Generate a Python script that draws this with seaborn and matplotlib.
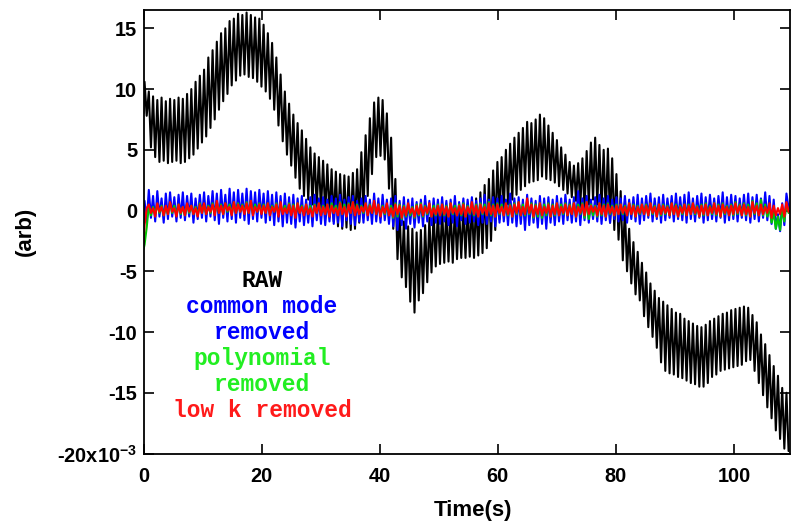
import numpy as np
import pandas as pd
import matplotlib
matplotlib.use("Agg")
import matplotlib.pyplot as plt
import seaborn as sns
from matplotlib.ticker import FixedLocator, FuncFormatter

# ---------------------------------------------------------------------------
# Detector time streams (values in units of 1e-3, arbitrary).
# Each stream is stored as the successive maxima / minima of the ~1.4 Hz
# oscillation, one pair per cycle, plus the value at t = 0.
# ---------------------------------------------------------------------------
SCALE = 1e-3
FIRST_EXTREMUM = 0.18   # s
EXTREMUM_STEP = 0.36    # s between a maximum and the following minimum

raw_start = 8.0
raw_peaks = [
    10.6, 9.8, 9.4, 9.1, 9.3, 9.0, 9.2, 9.1, 9.3, 9.2,
    9.6, 10.0, 10.6, 11.1, 11.6, 12.6, 13.2, 13.9, 14.6, 15.0,
    15.6, 15.8, 16.2, 16.1, 16.3, 16.1, 15.9, 15.8, 15.3, 14.6,
    13.8, 12.6, 11.2, 9.8, 8.8, 7.9, 7.2, 6.6, 5.9, 5.2,
    4.7, 4.4, 4.1, 3.8, 3.4, 3.2, 3.0, 2.9, 2.8, 3.1,
    3.4, 4.8, 6.2, 7.6, 8.9, 9.3, 9.1, 8.0, 6.0, 2.6,
    0.2, -0.9, -1.3, -1.5, -1.8, -1.6, -1.2, -0.6, -0.1, 0.1,
    0.2, 0.3, 0.2, 0.3, 0.2, 0.3, 0.5, 0.8, 1.0, 1.5,
    2.1, 2.6, 3.3, 4.0, 4.4, 5.0, 5.5, 6.0, 6.4, 6.8,
    7.3, 7.2, 7.5, 7.9, 7.6, 7.0, 6.4, 5.8, 5.2, 4.6,
    4.0, 3.7, 3.9, 4.3, 4.9, 5.6, 6.0, 5.4, 5.0, 5.1,
    4.3, 3.0, 1.6, 0.2, -1.5, -2.6, -3.4, -4.3, -5.1, -6.0,
    -6.6, -7.2, -7.5, -7.8, -8.1, -8.4, -8.5, -8.9, -9.1, -9.3,
    -9.5, -9.6, -9.4, -9.1, -8.9, -8.7, -8.5, -8.4, -8.2, -8.1,
    -8.0, -7.9, -8.0, -8.6, -9.2, -10.2, -11.0, -11.9, -12.8, -13.6,
    -14.6, -15.0,
]
raw_troughs = [
    7.8, 5.2, 4.4, 4.0, 4.1, 3.9, 4.0, 4.1, 3.9, 4.0,
    4.3, 4.6, 5.1, 5.6, 6.1, 6.8, 7.5, 8.3, 9.0, 9.6,
    10.3, 10.7, 11.1, 11.2, 11.0, 10.9, 10.6, 10.2, 9.8, 9.2,
    8.3, 7.0, 5.7, 4.6, 3.7, 2.7, 1.8, 1.2, 0.9, 0.5,
    0.2, 0.0, -0.3, -0.5, -0.9, -1.3, -1.5, -1.4, -1.6, -1.5,
    -1.0, -0.3, 1.2, 3.0, 4.4, 4.5, 4.2, 1.8, -1.5, -4.0,
    -5.5, -6.3, -7.5, -8.4, -7.4, -6.8, -5.9, -5.1, -4.6, -4.4,
    -4.3, -4.2, -4.3, -4.0, -3.9, -3.9, -3.8, -3.9, -3.7, -3.5,
    -3.1, -2.5, -1.6, -0.7, 0.0, 0.5, 0.9, 1.3, 1.7, 2.0,
    2.3, 2.4, 2.5, 2.8, 2.6, 2.5, 2.3, 2.0, 1.7, 1.4,
    1.1, 0.8, 0.3, 0.0, 0.5, 0.9, 0.5, 0.1, -0.4, -1.0,
    -1.6, -2.4, -4.1, -5.0, -6.0, -6.9, -7.4, -8.7, -9.6, -10.4,
    -11.3, -12.5, -13.2, -13.4, -13.5, -13.7, -13.8, -14.0, -14.2, -14.3,
    -14.5, -14.5, -14.2, -13.7, -13.5, -13.2, -13.1, -13.0, -12.9, -12.8,
    -12.7, -12.4, -12.3, -13.2, -14.2, -15.2, -16.2, -17.1, -18.1, -18.8,
    -19.6, -19.8,
]

cm_start = -1.5
cm_peaks = [
    0.8, 1.7, 1.2, 1.6, 1.0, 1.4, 1.5, 1.1, 1.3, 1.5, 1.2, 1.4, 1.0, 1.3,
    1.5, 1.2, 1.6, 1.4, 1.7, 1.3, 1.8, 1.5, 1.7, 1.4, 1.8, 1.6, 1.5, 1.7,
    1.4, 1.6, 1.3, 1.5, 1.2, 1.4, 1.1, 1.3, 1.0, 1.2, 0.9, 1.1, 1.3, 1.0,
    1.1, 0.9, 1.2, 1.0, 1.3, 0.9, 1.1, 1.2, 0.8, 1.0, 1.2, 0.9, 1.4, 1.0,
    1.3, 0.9, 1.0, 1.2, 0.8, 1.1, 0.9, 1.0, 0.7, 0.9, 1.2, 0.8, 1.0, 0.9,
    1.1, 0.8, 0.9, 1.2, 0.7, 1.0, 0.9, 1.1, 0.8, 1.0, 1.3, 0.9, 1.1, 1.0,
    1.2, 0.9, 1.4, 1.0, 1.1, 0.9, 1.3, 1.0, 0.8, 1.2, 1.0, 1.1, 0.9, 1.2,
    1.0, 1.3, 0.9, 1.1, 1.6, 1.0, 1.2, 0.9, 1.1, 1.3, 1.0, 1.2, 0.9, 1.1,
    1.0, 1.2, 0.9, 1.1, 1.3, 1.0, 1.2, 1.4, 1.0, 1.1, 1.3, 1.0, 1.2, 1.4,
    1.1, 1.3, 1.5, 1.0, 1.2, 1.4, 1.1, 1.3, 1.0, 1.2, 1.5, 1.1, 1.3, 1.2,
    1.0, 1.3, 1.4, 1.1, 1.3, 1.0, 1.5, 1.2, 0.9, -0.3, 0.6, 1.4,
]
cm_troughs = [
    -1.0, -0.6, -0.9, -0.5, -1.0, -0.7, -0.5, -0.9, -0.6, -0.8, -0.5, -1.0, -0.7, -0.6,
    -0.9, -0.5, -0.8, -1.1, -0.6, -0.9, -0.7, -1.0, -0.6, -0.8, -1.1, -0.7, -0.9, -0.6,
    -1.0, -0.8, -1.2, -0.9, -1.3, -1.0, -1.1, -1.4, -0.9, -1.2, -1.0, -1.3, -0.8, -1.1,
    -1.2, -0.9, -1.1, -1.0, -1.3, -0.8, -1.1, -1.2, -0.9, -1.0, -0.8, -1.1, -0.9, -1.0,
    -0.8, -1.1, -1.3, -1.6, -1.2, -1.5, -1.1, -1.4, -1.0, -1.3, -0.9, -1.2, -1.0, -1.1,
    -0.9, -1.2, -1.0, -1.3, -0.8, -1.1, -1.0, -0.9, -1.2, -1.0, -1.1, -0.9, -1.3, -1.0,
    -0.9, -1.2, -1.0, -1.3, -1.1, -1.6, -1.2, -1.0, -1.4, -1.1, -1.5, -1.0, -1.2, -0.9,
    -1.1, -0.8, -1.0, -0.9, -1.2, -0.8, -1.0, -0.7, -0.9, -1.1, -0.8, -1.0, -0.7, -0.9,
    -0.8, -1.0, -0.7, -0.9, -1.1, -0.8, -0.6, -0.9, -0.7, -1.0, -0.8, -0.6, -0.9, -0.7,
    -0.8, -1.0, -0.7, -0.9, -0.6, -1.0, -0.8, -0.7, -0.9, -0.6, -1.0, -0.8, -0.7, -0.9,
    -0.6, -0.8, -1.0, -0.7, -0.9, -0.6, -0.8, -1.1, -1.5, -1.7, -1.2, 0.2,
]

poly_start = -3.2
poly_peaks = [
    -2.8, 0.4, 0.3, 0.5, 0.4, 0.3, 0.6, 0.4, 0.5, 0.3, 0.5, 0.4, 0.3, 0.6,
    0.5, 0.4, 0.6, 0.7, 0.5, 0.6, 0.5, 0.7, 0.6, 0.5, 0.7, 0.8, 0.5, 0.6,
    0.5, 0.6, 0.4, 0.6, 0.5, 0.4, 0.6, 0.5, 0.6, 0.4, 0.5, 0.4, 0.5, 0.6,
    0.4, 0.5, 0.6, 0.4, 0.7, 0.5, 0.6, 0.7, 0.5, 0.4, 0.6, 0.5, 0.6, 0.5,
    0.4, 0.5, 0.4, 0.6, 0.5, 0.4, 0.5, 0.3, 0.5, 0.6, 0.4, 0.5, 0.4, 0.5,
    0.5, 0.4, 0.6, 0.4, 0.5, 0.6, 0.4, 0.6, 0.5, 0.6, 0.5, 0.7, 0.5, 0.6,
    0.5, 0.6, 0.5, 0.6, 0.7, 0.5, 0.8, 0.6, 0.5, 0.6, 0.5, 0.6, 0.5, 0.6,
    0.5, 0.6, 0.5, 0.6, 0.5, 0.6, 0.7, 0.5, 0.4, 0.6, 0.5, 0.6, 0.4, 0.5,
    0.5, 0.4, 0.6, 0.5, 0.4, 0.5, 0.5, 0.6, 0.4, 0.5, 0.5, 0.4, 0.6, 0.5,
    0.4, 0.5, 0.5, 0.6, 0.4, 0.5, 0.6, 0.4, 0.6, 0.5, 0.6, 0.4, 0.5, 0.7,
    0.5, 0.6, 0.5, 0.8, 0.6, 0.9, 0.5, 0.3, -0.2, -0.5, 0.2, 0.6,
]
poly_troughs = [
    -1.4, -0.4, -0.3, -0.2, -0.4, -0.3, -0.2, -0.4, -0.3, -0.4, -0.2, -0.3, -0.4, -0.2,
    -0.3, -0.2, -0.3, -0.2, -0.3, -0.1, -0.3, -0.2, -0.1, -0.2, -0.2, -0.3, -0.1, -0.2,
    -0.2, -0.3, -0.1, -0.3, -0.2, -0.2, -0.3, -0.4, -0.2, -0.3, -0.3, -0.4, -0.2, -0.3,
    -0.3, -0.4, -0.2, -0.3, -0.3, -0.4, -0.2, -0.3, -0.3, -0.2, -0.3, -0.2, -0.3, -0.4,
    -0.3, -0.4, -0.6, -0.5, -0.7, -0.5, -0.4, -0.6, -0.4, -0.5, -0.3, -0.5, -0.4, -0.4,
    -0.4, -0.5, -0.3, -0.4, -0.4, -0.5, -0.3, -0.4, -0.5, -0.3, -0.4, -0.4, -0.5, -0.3,
    -0.4, -0.4, -0.5, -0.3, -0.4, -0.4, -0.3, -0.6, -0.5, -0.6, -0.4, -0.5, -0.4, -0.4,
    -0.3, -0.4, -0.3, -0.5, -0.3, -0.6, -0.7, -0.4, -0.5, -0.4, -0.5, -0.3, -0.4, -0.3,
    -0.3, -0.4, -0.3, -0.5, -0.3, -0.3, -0.4, -0.3, -0.5, -0.4, -0.3, -0.4, -0.3, -0.5,
    -0.3, -0.4, -0.3, -0.3, -0.5, -0.4, -0.4, -0.3, -0.4, -0.5, -0.3, -0.4, -0.4, -0.3,
    -0.4, -0.4, -0.5, -0.3, -0.4, -0.4, -0.5, -1.0, -1.5, -1.6, -0.9, -0.2,
]

lowk_start = -2.6
lowk_peaks = [
    -1.2, 0.5, 0.2, 0.6, 0.3, 0.4, 0.7, 0.2, 0.5, 0.3, 0.6, 0.4, 0.2, 0.5,
    0.6, 0.3, 0.5, 0.8, 0.4, 0.6, 0.3, 0.7, 0.5, 0.4, 0.6, 0.8, 0.3, 0.5,
    0.4, 0.6, 0.3, 0.5, 0.7, 0.2, 0.5, 0.4, 0.6, 0.3, 0.5, 0.2, 0.4, 0.6,
    0.3, 0.5, 0.4, 0.2, 0.6, 0.3, 0.5, 0.7, 0.4, 0.3, 0.6, 0.4, 0.8, 0.5,
    0.3, 0.6, 0.2, 0.5, 0.4, 0.3, 0.6, 0.2, 0.4, 0.5, 0.3, 0.6, 0.2, 0.4,
    0.5, 0.3, 0.6, 0.2, 0.4, 0.5, 0.3, 0.7, 0.4, 0.5, 0.3, 0.6, 0.4, 0.5,
    0.3, 0.6, 0.4, 0.5, 0.7, 0.3, 1.0, 0.5, 0.4, 0.6, 0.3, 0.5, 0.4, 0.6,
    0.3, 0.5, 0.4, 0.6, 0.3, 0.5, 0.7, 0.4, 0.3, 0.6, 0.4, 0.5, 0.3, 0.4,
    0.5, 0.3, 0.6, 0.4, 0.3, 0.5, 0.4, 0.6, 0.3, 0.5, 0.4, 0.3, 0.6, 0.4,
    0.3, 0.5, 0.4, 0.6, 0.3, 0.4, 0.5, 0.3, 0.6, 0.4, 0.5, 0.3, 0.4, 0.6,
    0.4, 0.5, 0.3, 0.7, 0.4, 0.5, 0.3, 0.6, 0.4, 0.2, 0.5, 0.7,
]
lowk_troughs = [
    0.2, -0.2, -0.5, -0.1, -0.4, -0.3, -0.1, -0.5, -0.2, -0.4, -0.1, -0.3, -0.5, -0.2,
    -0.3, -0.1, -0.4, -0.2, -0.3, 0.0, -0.4, -0.2, -0.1, -0.3, -0.2, -0.4, -0.1, -0.3,
    -0.2, -0.4, -0.1, -0.5, -0.3, -0.2, -0.4, -0.6, -0.2, -0.4, -0.3, -0.5, -0.2, -0.4,
    -0.3, -0.5, -0.2, -0.4, -0.3, -0.5, -0.2, -0.4, -0.3, -0.1, -0.4, -0.2, -0.3, -0.5,
    -0.2, -0.4, -0.5, -0.3, -0.6, -0.4, -0.2, -0.5, -0.3, -0.4, -0.2, -0.5, -0.3, -0.4,
    -0.3, -0.5, -0.2, -0.4, -0.3, -0.5, -0.2, -0.3, -0.5, -0.2, -0.4, -0.3, -0.5, -0.2,
    -0.4, -0.3, -0.5, -0.2, -0.4, -0.3, -0.2, -0.5, -0.3, -0.4, -0.2, -0.5, -0.3, -0.4,
    -0.2, -0.4, -0.3, -0.5, -0.2, -0.4, -0.3, -0.1, -0.4, -0.3, -0.5, -0.2, -0.4, -0.3,
    -0.2, -0.4, -0.3, -0.5, -0.2, -0.3, -0.4, -0.2, -0.5, -0.3, -0.2, -0.4, -0.3, -0.5,
    -0.2, -0.4, -0.3, -0.2, -0.5, -0.3, -0.4, -0.2, -0.3, -0.5, -0.2, -0.4, -0.3, -0.2,
    -0.4, -0.3, -0.5, -0.2, -0.4, -0.3, -0.2, -0.6, -0.4, -0.3, -0.5, -0.1,
]

trace_names = ["RAW", "common mode removed", "polynomial removed", "low k removed"]
line_colors = ["#000000", "#0000ff", "#00c800", "#ff0000"]
label_colors = ["#000000", "#0000ff", "#22ee22", "#ff1a1a"]
label_lines = [["RAW"], ["common mode", "removed"], ["polynomial", "removed"], ["low k removed"]]

y_ticks = [-20, -15, -10, -5, 0, 5, 10, 15]
x_ticks = [0, 20, 40, 60, 80, 100]


def build_trace(start, peaks, troughs):
    """Interleave the maxima/minima into a time-ordered stream."""
    values = np.column_stack([peaks, troughs]).ravel()
    times = FIRST_EXTREMUM + EXTREMUM_STEP * np.arange(values.size)
    return np.concatenate([[0.0], times]), np.concatenate([[start], values]) * SCALE


streams = [
    build_trace(raw_start, raw_peaks, raw_troughs),
    build_trace(cm_start, cm_peaks, cm_troughs),
    build_trace(poly_start, poly_peaks, poly_troughs),
    build_trace(lowk_start, lowk_peaks, lowk_troughs),
]
frames = []
for name, (t, v) in zip(trace_names, streams):
    frames.append(pd.DataFrame({"time": t, "signal": v, "trace": name}))
df = pd.concat(frames, ignore_index=True)

# ---------------------------------------------------------------------------
sns.set_style("ticks")
plt.rcParams["font.family"] = ["Liberation Sans", "DejaVu Sans"]
plt.rcParams["font.weight"] = "bold"
plt.rcParams["text.color"] = "black"
plt.rcParams["axes.labelcolor"] = "black"
plt.rcParams["xtick.color"] = "black"
plt.rcParams["ytick.color"] = "black"
plt.rcParams["xtick.labelcolor"] = "black"
plt.rcParams["ytick.labelcolor"] = "black"
plt.rcParams["mathtext.fontset"] = "custom"
plt.rcParams["mathtext.rm"] = "Liberation Sans:bold"
plt.rcParams["mathtext.bf"] = "Liberation Sans:bold"
plt.rcParams["mathtext.default"] = "bf"

W, H = 791, 524
fig = plt.figure(figsize=(W / 100, H / 100), dpi=100)
ax_left, ax_right, ax_top, ax_bottom = 143.5, 790.0, 9.5, 453.5
ax = fig.add_axes([ax_left / W, 1 - ax_bottom / H,
                   (ax_right - ax_left) / W, (ax_bottom - ax_top) / H])

sns.lineplot(data=df, x="time", y="signal", hue="trace", hue_order=trace_names,
             palette=dict(zip(trace_names, line_colors)), estimator=None,
             sort=False, linewidth=1.5, legend=False, ax=ax)

ax.set_xlim(0, 109.5)
ax.set_ylim(-20 * SCALE, 16.55 * SCALE)

ax.xaxis.set_major_locator(FixedLocator(x_ticks))
ax.yaxis.set_major_locator(FixedLocator([v * SCALE for v in y_ticks]))


def y_label(v, pos):
    n = int(round(v / SCALE))
    if n == y_ticks[0]:
        return r"%dx10$^{-3}$" % n
    return "%d" % n


ax.yaxis.set_major_formatter(FuncFormatter(y_label))
ax.xaxis.set_major_formatter(FuncFormatter(lambda v, p: "%d" % round(v)))

for side in ["left", "right", "top", "bottom"]:
    ax.spines[side].set_visible(True)
    ax.spines[side].set_linewidth(1.3)
    ax.spines[side].set_color("black")

ax.tick_params(axis="both", direction="in", length=7.5, width=1.2,
               top=True, right=True, labelsize=14.4, colors="black",
               labelcolor="black")
ax.tick_params(axis="x", pad=10)
ax.tick_params(axis="y", pad=4.5)
for lbl in ax.get_xticklabels() + ax.get_yticklabels():
    lbl.set_fontweight("bold")
    lbl.set_color("black")

ax.set_xlabel("Time(s)", fontsize=16, fontweight="bold", color="black")
ax.set_ylabel("(arb)", fontsize=16, fontweight="bold", color="black")
ax.xaxis.set_label_coords((472.5 - ax_left) / (ax_right - ax_left),
                          (ax_bottom - 500.0) / (ax_bottom - ax_top))
ax.yaxis.set_label_coords((36.0 - ax_left) / (ax_right - ax_left), 0.5)

# stacked, colour-coded key inside the axes
baseline_px = 287.0
line_step = 26.0
key_x = (262.0 - ax_left) / (ax_right - ax_left)
row = 0
for color, lines in zip(label_colors, label_lines):
    for text in lines:
        y_px = baseline_px + row * line_step
        ax.text(key_x, (ax_bottom - y_px) / (ax_bottom - ax_top), text,
                transform=ax.transAxes, ha="center", va="baseline",
                color=color, fontsize=16.5, fontweight="bold",
                family=["Liberation Mono", "DejaVu Sans Mono"])
        row += 1

fig.savefig("out.png", dpi=100, facecolor="white")
